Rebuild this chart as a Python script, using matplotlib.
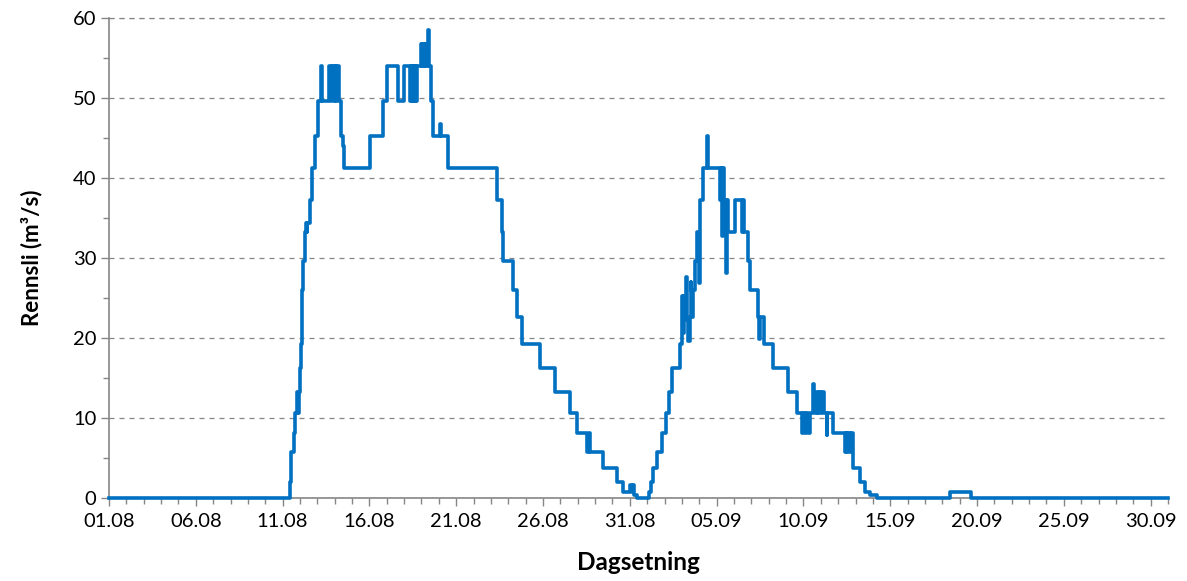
import datetime as dt
import matplotlib
matplotlib.use("Agg")
import matplotlib.pyplot as plt
import matplotlib.dates as mdates
from matplotlib.ticker import MultipleLocator

# discharge series: days since 01.08 00:00 and m3/s (step changes)
dag = [
    0.00, 10.40, 10.45, 10.50, 10.65, 10.71, 10.82, 10.90, 10.94, 11.00,
    11.05, 11.11, 11.14, 11.17, 11.28, 11.34, 11.38, 11.43, 11.57, 11.69,
    11.86, 12.03, 12.21, 12.29, 12.67, 12.78, 12.84, 12.98, 13.04, 13.10,
    13.14, 13.22, 13.35, 13.47, 13.53, 15.03, 15.77, 16.00, 16.64, 16.98,
    17.33, 17.39, 17.44, 17.50, 17.56, 17.62, 17.67, 17.73, 17.96, 18.02,
    18.05, 18.10, 18.13, 18.19, 18.22, 18.30, 18.37, 18.45, 18.52, 18.65,
    19.06, 19.11, 19.54, 22.34, 22.63, 22.68, 23.26, 23.49, 23.78, 24.81,
    25.68, 26.54, 26.94, 27.52, 27.64, 27.72, 28.44, 29.25, 29.59, 29.99,
    30.10, 30.17, 30.25, 30.40, 31.09, 31.20, 31.32, 31.55, 31.84, 32.07,
    32.24, 32.41, 32.87, 33.00, 33.05, 33.10, 33.14, 33.20, 33.26, 33.32,
    33.37, 33.45, 33.50, 33.54, 33.60, 33.64, 33.74, 33.85, 33.97, 34.06,
    34.20, 34.43, 34.50, 35.18, 35.23, 35.29, 35.35, 35.41, 35.46, 35.52,
    35.58, 35.66, 36.04, 36.44, 36.50, 36.56, 36.79, 36.90, 37.36, 37.45,
    37.52, 37.71, 38.23, 39.09, 39.61, 39.90, 40.00, 40.07, 40.13, 40.24,
    40.35, 40.53, 40.60, 40.68, 40.76, 40.85, 40.90, 40.99, 41.05, 41.20,
    41.33, 41.38, 41.68, 42.37, 42.45, 42.52, 42.58, 42.66, 42.72, 42.83,
    43.24, 43.52, 43.81, 44.21, 48.42, 49.68, 61.00,
]
rennsli = [
    0.0, 0.8, 2.0, 5.8, 8.1, 10.6, 13.3, 10.6, 13.3, 16.2,
    19.3, 22.6, 26.0, 29.6, 33.3, 34.4, 33.3, 34.4, 37.2, 41.2,
    45.3, 49.6, 54.0, 49.6, 54.0, 49.6, 54.0, 49.6, 54.0, 49.6,
    54.0, 49.6, 45.3, 44.0, 41.2, 45.3, 49.6, 54.0, 49.6, 54.0,
    49.6, 54.0, 49.6, 54.0, 49.6, 54.0, 49.6, 54.0, 56.8, 54.0,
    56.8, 54.0, 56.8, 54.0, 56.8, 54.0, 58.5, 54.0, 49.6, 45.3,
    46.8, 45.3, 41.2, 37.2, 33.3, 29.6, 26.0, 22.6, 19.3, 16.2,
    13.3, 10.6, 8.1, 5.8, 8.1, 5.8, 3.8, 2.0, 0.8, 1.6,
    0.8, 1.6, 0.4, 0.0, 0.8, 2.0, 3.8, 5.8, 8.1, 10.6,
    13.3, 16.2, 19.3, 25.2, 20.6, 25.2, 22.6, 23.9, 27.6, 22.3,
    19.6, 22.6, 27.0, 26.0, 22.6, 26.0, 29.6, 33.3, 26.9, 37.2,
    41.2, 45.3, 41.2, 37.2, 41.2, 32.7, 41.2, 33.3, 37.2, 28.1,
    37.2, 33.3, 37.2, 33.3, 37.2, 33.3, 29.6, 26.0, 22.6, 19.9,
    22.6, 19.3, 16.2, 13.3, 10.6, 8.1, 10.6, 8.1, 10.6, 8.1,
    10.6, 14.3, 13.3, 10.6, 13.3, 10.6, 13.3, 10.6, 13.3, 10.6,
    7.9, 10.6, 8.1, 5.8, 8.1, 5.8, 8.1, 5.8, 8.1, 3.8,
    2.0, 0.8, 0.4, 0.0, 0.8, 0.0, 0.0,
]

start = dt.datetime(2013, 8, 1)
tid = [start + dt.timedelta(days=d) for d in dag]

plt.rcParams['font.family'] = ['Lato', 'DejaVu Sans']
grey = '#868686'

fig = plt.figure(figsize=(11.87, 5.81), dpi=100)
ax = fig.add_axes([109 / 1187, 83 / 581, (1168 - 109) / 1187, (498 - 18) / 581])

ax.plot(tid, rennsli, drawstyle='steps-post', color='#0070C0', linewidth=2.6,
        zorder=3, clip_on=False)

ax.set_xlim(start, start + dt.timedelta(days=61))
ax.set_ylim(0, 60)

# ticks: labels every 5th day, minor tick every day
ax.set_xticks([start + dt.timedelta(days=5 * k) for k in range(13)])
ax.xaxis.set_major_formatter(mdates.DateFormatter('%d.%m'))
ax.set_xticks([start + dt.timedelta(days=k) for k in range(62)], minor=True)
ax.yaxis.set_major_locator(MultipleLocator(10))
ax.yaxis.set_minor_locator(MultipleLocator(5))

ax.tick_params(axis='both', which='major', direction='out', length=6, width=1,
               color=grey, labelsize=14.5, labelcolor='black')
ax.tick_params(axis='both', which='minor', direction='out', length=4, width=1,
               color=grey)
ax.tick_params(axis='x', which='major', pad=5)
ax.tick_params(axis='y', which='major', pad=3)

for side in ['top', 'right']:
    ax.spines[side].set_visible(False)
for side in ['left', 'bottom']:
    ax.spines[side].set_color(grey)
    ax.spines[side].set_linewidth(1.2)

ax.yaxis.grid(True, linestyle=(0, (4, 4)), color=grey, linewidth=0.9)
ax.set_axisbelow(True)
# dashed line at the top (60)
ax.axhline(60, linestyle=(0, (4, 4)), color=grey, linewidth=0.9, clip_on=False)

ax.set_xlabel('Dagsetning', fontsize=17.5, fontweight='bold', labelpad=15)
ax.set_ylabel('Rennsli (m³/s)', fontsize=16, fontweight='bold', labelpad=22)

fig.savefig('out.png', dpi=100)
